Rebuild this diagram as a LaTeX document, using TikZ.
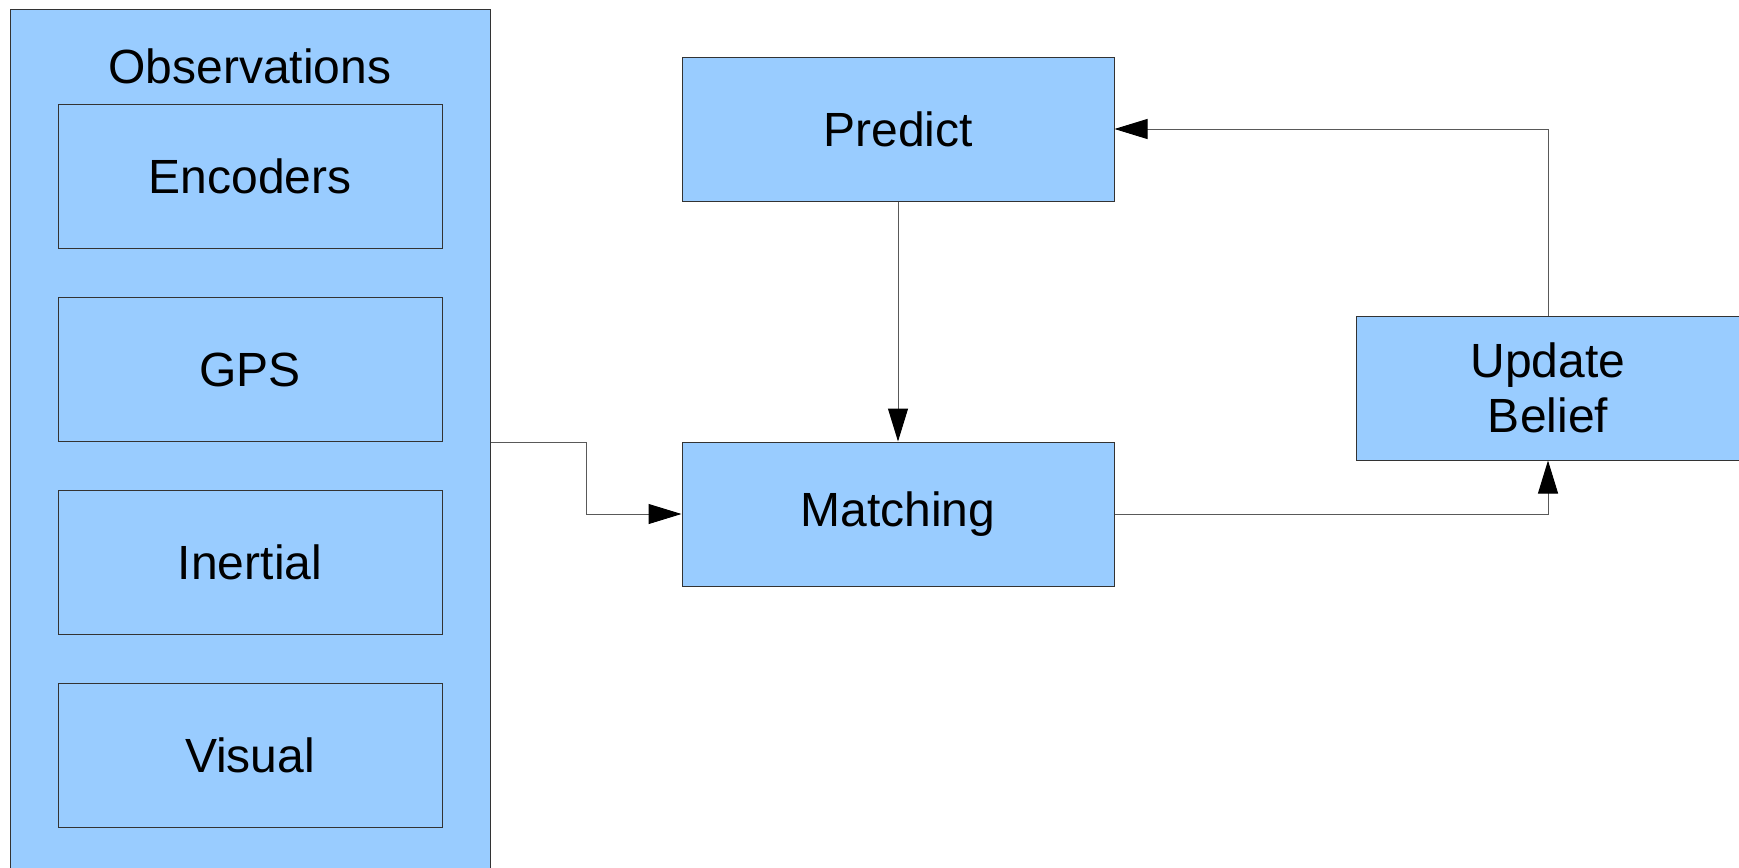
\documentclass[tikz,border=0pt]{standalone}
\usepackage{fontspec}
\setmainfont{Liberation Sans}
\usepackage{tikz}
\usetikzlibrary{arrows.meta}
\usetikzlibrary{positioning}
\definecolor{boxblue}{HTML}{99CCFF}

\begin{document}
\begin{tikzpicture}[x=0.5pt, y=-0.5pt, font=\fontsize{24}{27.5}\selectfont,
    box/.style={draw=black!80, line width=0.5pt, fill=boxblue, align=center, inner sep=0pt},
    sensor/.style={box, minimum width=192pt, minimum height=72pt},
    stage/.style={box, minimum width=216pt, minimum height=72pt},
    flow/.style={draw=black!65, line width=0.5pt, -{Triangle[length=16.5pt,width=10pt,color=black]}}]
      \useasboundingbox (0,0) rectangle (1739,867);
      % observations column, runs off the bottom of the page
      \node[box, minimum width=240pt, minimum height=445.5pt] (obs) at (250,454.5) {};
      \node[] (obstitle) at (250,66) {Observations};
      \node[sensor] (enc) at (250,176.5) {Encoders};
      \node[sensor, below=24pt of enc] (gps) {GPS};
      \node[sensor, below=24pt of gps] (inertial) {Inertial};
      \node[sensor, below=24pt of inertial] (visual) {Visual};
      % filter loop
      \node[stage] (predict) at (898,129) {Predict};
      \node[stage, below=120pt of predict] (matching) {Matching};
      \node[sensor] (update) at (1548,388) {Update\\Belief};
      \draw[flow] (obs.east |- gps.south) -- ++(96,0) |- (matching.west);
      \draw[flow] (predict.south) -- (matching.north);
      \draw[flow] (matching.east) -| (update.south);
      \draw[flow] (update.north) |- (predict.east);
\end{tikzpicture}
\end{document}
